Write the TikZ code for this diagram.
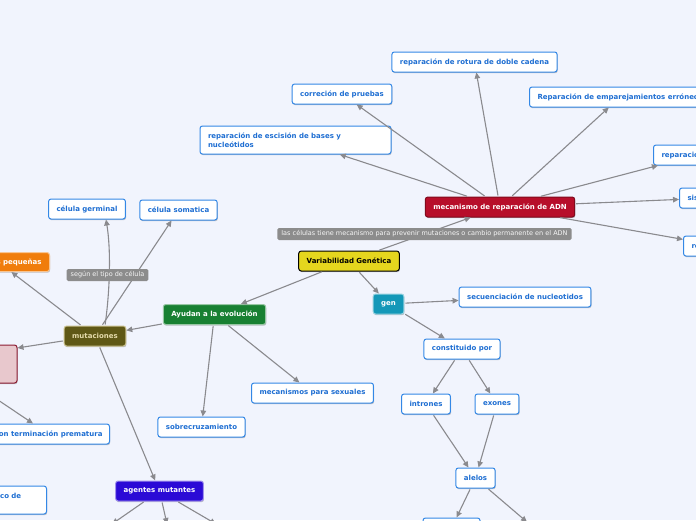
\documentclass[tikz,border=0pt]{standalone}
\usepackage{fontspec}
\usetikzlibrary{arrows.meta,shadows}
\newfontfamily\dvs{DejaVu Sans}
\definecolor{bgc}{RGB}{241,244,253}
\definecolor{bborder}{RGB}{52,136,230}
\definecolor{btext}{RGB}{30,110,210}
\definecolor{conncol}{RGB}{138,138,142}
\definecolor{lblgray}{RGB}{140,140,140}
\definecolor{cred}{RGB}{183,14,42}
\definecolor{cyellow}{RGB}{229,214,30}
\definecolor{cteal}{RGB}{20,152,184}
\definecolor{cgreen}{RGB}{24,128,50}
\definecolor{colive}{RGB}{95,88,22}
\definecolor{olivetext}{RGB}{228,218,170}
\definecolor{cpurple}{RGB}{43,10,214}
\definecolor{corange}{RGB}{240,125,12}
\definecolor{cpink}{RGB}{232,200,205}
\definecolor{cpinkborder}{RGB}{140,28,50}
\newlength\lw
\newcommand\nfont{\dvs\bfseries\fontsize{7}{8.5}\selectfont}
\begin{document}
\settowidth{\lw}{\nfont desplazamiento del marco de}%
\addtolength{\lw}{18pt}%
\begin{tikzpicture}[x=1pt,y=-1pt,
  base/.style={rounded corners=2.5pt, minimum height=20pt, inner xsep=8pt, inner ysep=2pt,
    font=\nfont, line width=1pt,
    drop shadow={shadow xshift=0.6pt, shadow yshift=-1.2pt, opacity=0.22, fill=black}},
  wbox/.style={base, draw=bborder, fill=white, text=btext},
  cbox/.style={base, fill=#1, draw=white!55!#1, text=white},
  lbl/.style={fill=lblgray, text=white!93!gray, font=\dvs\fontsize{6.5}{7}\selectfont,
    rounded corners=1.5pt, inner xsep=4pt, inner ysep=1pt, minimum height=12pt},
  conn/.style={draw=conncol, line width=1.1pt, shorten <=1pt,
    -{Triangle[length=6pt,width=5.5pt]}}
]
\path[use as bounding box] (0,0) rectangle (696,520);
\clip (0,0) rectangle (696,520);
\fill[bgc] (0,0) rectangle (696,520);

% right part
\node[cbox=cred, draw=cred!70!black] (adn) at (500,207) {mecanismo de reparación de ADN};
\node[wbox] (rot) at (474.5,62) {reparación de rotura de doble cadena};
\node[wbox] (corr) at (342,94) {correción de pruebas};
\node[wbox, align=left, text width=175pt, minimum height=28pt] (esc) at (295.5,140)
  {reparación de escisión de bases y\\nucleótidos};
\node[wbox, anchor=west] (emp) at (529,97) {Reparación de emparejamientos erróneos};
\node[wbox, anchor=west] (repd) at (653,155) {reparación directa};
\node[wbox, anchor=west] (sis) at (679,198) {sistema SOS};
\node[wbox, anchor=west] (rec) at (683,246) {recombinación};

\node[cbox=cyellow, draw=black, text=black] (var) at (349,261) {Variabilidad Genética};
\node[cbox=cteal] (gen) at (388.5,304) {gen};
\node[wbox] (sec) at (525,297) {secuenciación de nucleotidos};
\node[wbox] (cons) at (462,349) {constituido por};
\node[wbox] (intr) at (426,404) {intrones};
\node[wbox] (exo) at (497,404) {exones};
\node[wbox] (ale) at (475.5,478) {alelos};
\node[wbox, minimum width=57pt] (al1) at (451.5,528) {};
\coordinate (al2) at (527,522);

% left part
\node[cbox=cgreen] (ayu) at (214.5,314.5) {Ayudan a la evolución};
\node[cbox=colive, draw=olivetext!80!colive, text=olivetext] (mut) at (95,336) {mutaciones};
\node[wbox] (germ) at (87,209) {célula germinal};
\node[wbox] (som) at (178.5,210) {célula somatica};
\node[cbox=corange, anchor=east, minimum height=19pt] (peq) at (50,262) {mutaciones pequeñas};
\node[base, fill=cpink, draw=cpinkborder, minimum width=208pt, minimum height=38pt] (pink) at (-87,364) {};
\node[wbox, anchor=east, inner xsep=7pt] (term) at (110,434) {con terminación prematura};
\node[wbox, anchor=east, inner xsep=7pt, align=left, text width=\lw, minimum height=28pt] (despl) at (47,500)
  {desplazamiento del marco de\\lectura};
\node[cbox=cpurple] (agm) at (159.5,491) {agentes mutantes};
\node[wbox] (sob) at (201.5,427) {sobrecruzamiento};
\node[wbox] (mec) at (312.5,393) {mecanismos para sexuales};
\coordinate (ag1) at (112,524);
\coordinate (ag2) at (167,524);
\coordinate (ag3) at (216,524);

% connectors
\foreach \t in {rot,corr,esc,emp,repd,sis,rec} \draw[conn] (adn) -- (\t);
\draw[conn] (var) -- (adn);
\draw[conn] (var) -- (ayu);
\draw[conn] (var) -- (gen);
\draw[conn] (gen) -- (sec);
\draw[conn] (gen) -- (cons);
\draw[conn] (cons) -- (intr);
\draw[conn] (cons) -- (exo);
\draw[conn] (intr) -- (ale);
\draw[conn] (exo) -- (ale);
\draw[conn] (ale) -- (al1);
\draw[conn] (ale) -- (al2);
\draw[conn] (ayu) -- (mut);
\draw[conn] (ayu) -- (sob);
\draw[conn] (ayu) -- (mec);
\draw[conn] ([xshift=10pt]mut.north) .. controls (110,290) and (111,250) .. ([xshift=19pt]germ.south);
\draw[conn] (mut) -- (som);
\draw[conn] (mut) -- (peq);
\draw[conn] (mut) -- (pink);
\draw[conn] (mut) -- (agm);
\draw[conn] ([xshift=-44pt]pink.south east) -- (term);
\draw[conn] (agm) -- (ag1);
\draw[conn] (agm) -- (ag2);
\draw[conn] (agm) -- (ag3);

% edge labels
\node[lbl] (lab1) at (424.5,234) {las células tiene mecanismo para prevenir mutaciones o cambio permanente en el ADN};
\node[lbl] (lab2) at (107.5,275) {según el tipo de célula};
\end{tikzpicture}
\end{document}
